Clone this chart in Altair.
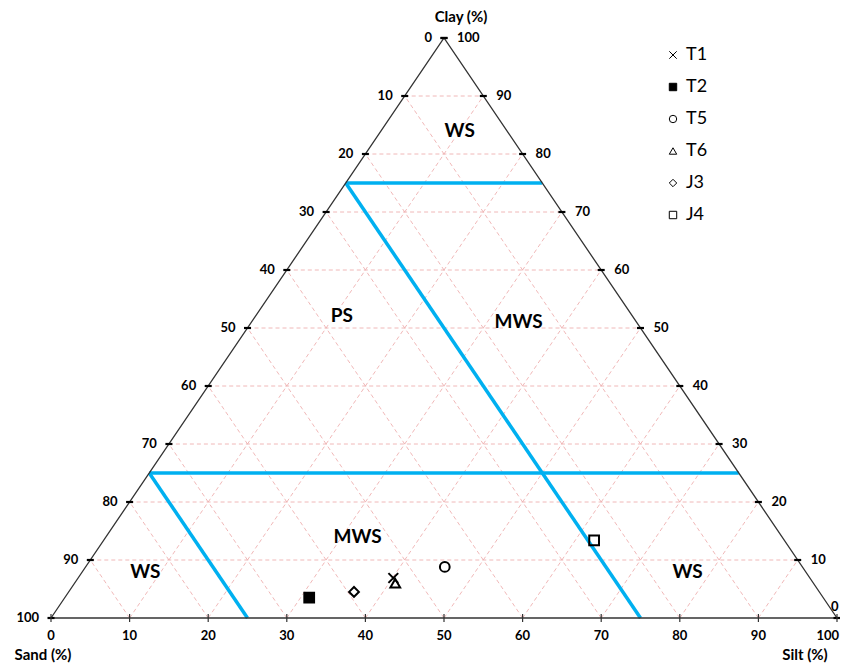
import altair as alt
import pandas as pd

# ---- data ----
series = ["T1", "T2", "T5", "T6", "J3", "J4"]
sand = [53.0, 65.4, 45.5, 53.2, 59.2, 24.2]
silt = [40.1, 31.1, 45.7, 40.8, 36.3, 62.4]
clay = [6.9, 3.5, 8.8, 6.0, 4.5, 13.4]

region_text = ["WS", "PS", "MWS", "MWS", "WS", "WS"]
region_sand = [6, 37, 15, 54, 84, 15]
region_silt = [10, 11, 34, 32, 8, 77]
region_clay = [84, 52, 51, 14, 8, 8]

levels = [0, 10, 20, 30, 40, 50, 60, 70, 80, 90, 100]
grid_levels = [10, 20, 30, 40, 50, 60, 70, 80, 90]

# boundary lines: (sand, silt, clay) start and end
bound_start = [(25, 0, 75), (75, 0, 25), (25, 0, 75), (75, 0, 25)]
bound_end = [(0, 25, 75), (0, 75, 25), (25, 75, 0), (75, 25, 0)]


def tx(si, cl):
    return si + cl / 2.0


# ---- tables ----
pts = pd.DataFrame({"series": series, "x": [tx(s, c) for s, c in zip(silt, clay)], "y": clay})

grid_rows = []
for c in grid_levels:
    grid_rows.append({"x": c / 2, "y": c, "x2": 100 - c / 2, "y2": c})
    grid_rows.append({"x": tx(100 - c, 0), "y": 0, "x2": tx(0, 100 - c), "y2": 100 - c})
    grid_rows.append({"x": tx(c, 0), "y": 0, "x2": tx(c, 100 - c), "y2": 100 - c})
grid = pd.DataFrame(grid_rows)

bounds = pd.DataFrame([
    {"x": tx(a[1], a[2]), "y": a[2], "x2": tx(b[1], b[2]), "y2": b[2]}
    for a, b in zip(bound_start, bound_end)
])

edges = pd.DataFrame({"x": [0, 100, 50, 0], "y": [0, 0, 100, 0], "o": [0, 1, 2, 3]})

left_ticks = pd.DataFrame({"x": [c / 2 for c in levels], "y": levels,
                           "label": [str(100 - c) for c in levels]})
right_ticks = pd.DataFrame({"x": [100 - c / 2 for c in levels], "y": levels,
                            "label": [str(c) for c in levels]})
bottom_ticks = pd.DataFrame({"x": levels, "y": [0] * len(levels),
                             "label": [str(s) for s in levels]})

regions = pd.DataFrame({"label": region_text,
                        "x": [tx(s, c) for s, c in zip(region_silt, region_clay)],
                        "y": region_clay})

FONT = "Lato"
xs = alt.Scale(domain=[0, 100], nice=False, zero=False)
ys = alt.Scale(domain=[0, 100], nice=False, zero=False)
X = alt.X("x:Q", scale=xs, axis=None)
Y = alt.Y("y:Q", scale=ys, axis=None)

grid_layer = alt.Chart(grid).mark_rule(color="#eeb0b0", strokeWidth=0.9, strokeDash=[4, 3]).encode(
    x=X, y=Y, x2="x2:Q", y2="y2:Q")

box_shape = "M-3,-1.3H3V1.3H-3Z"
box_layer = alt.Chart(regions).mark_point(shape=box_shape, size=110, filled=True, fill="white",
                                          opacity=1, strokeWidth=0).encode(x=X, y=Y)

bound_layer = alt.Chart(bounds).mark_rule(color="#00b0f0", strokeWidth=3.5).encode(
    x=X, y=Y, x2="x2:Q", y2="y2:Q")

edge_layer = alt.Chart(edges).mark_line(color="#333333", strokeWidth=1.3).encode(
    x=X, y=Y, order="o:Q")

hshape = "M-1,0H1"
vshape = "M0,-1V1"
lt = alt.Chart(left_ticks).mark_point(shape=hshape, size=49, color="black", strokeWidth=2.2, opacity=1).encode(x=X, y=Y)
rt = alt.Chart(right_ticks).mark_point(shape=hshape, size=49, color="black", strokeWidth=2.2, opacity=1).encode(x=X, y=Y)
bt = alt.Chart(bottom_ticks).mark_point(shape=vshape, size=64, color="#333333", strokeWidth=1.2, opacity=1).encode(x=X, y=Y)

lt_text = alt.Chart(left_ticks).mark_text(align="right", baseline="middle", dx=-12, font=FONT,
                                          fontSize=13, fontWeight="bold", color="black").encode(x=X, y=Y, text="label:N")
rt_text = alt.Chart(right_ticks[right_ticks["label"] != "0"]).mark_text(
    align="left", baseline="middle", dx=13, font=FONT,
    fontSize=13, fontWeight="bold", color="black").encode(x=X, y=Y, text="label:N")
rt_text0 = alt.Chart(right_ticks[right_ticks["label"] == "0"]).mark_text(
    align="left", baseline="middle", dx=-6, dy=-11, font=FONT,
    fontSize=13, fontWeight="bold", color="black").encode(x=X, y=Y, text="label:N")
bt_text = alt.Chart(bottom_ticks[bottom_ticks["label"] != "100"]).mark_text(
    align="center", baseline="middle", dy=18, font=FONT,
    fontSize=13, fontWeight="bold", color="black").encode(x=X, y=Y, text="label:N")
bt_text100 = alt.Chart(bottom_ticks[bottom_ticks["label"] == "100"]).mark_text(
    align="right", baseline="middle", dx=2, dy=18, font=FONT,
    fontSize=13, fontWeight="bold", color="black").encode(x=X, y=Y, text="label:N")

titles = pd.DataFrame({"x": [50, 0, 100], "y": [100, 0, 0],
                       "label": ["Clay (%)", "Sand (%)", "Silt (%)"],
                       "dx": [17, -8, -32], "dy": [-21, 37, 37]})
title_layers = []
for _, r in titles.iterrows():
    title_layers.append(
        alt.Chart(titles[titles["label"] == r["label"]]).mark_text(
            align="center", baseline="middle", dx=float(r["dx"]), dy=float(r["dy"]),
            font=FONT, fontSize=15, fontWeight="bold", color="black").encode(x=X, y=Y, text="label:N"))

region_layer = alt.Chart(regions).mark_text(align="center", baseline="middle", font=FONT,
                                            fontSize=19, fontWeight="bold", color="black").encode(
    x=X, y=Y, text="label:N")

shape_range = ["M-1,-1L1,1M1,-1L-1,1", "square", "circle", "triangle-up", "diamond", "square"]
fill_range = ["transparent", "black", "transparent", "transparent", "transparent", "transparent"]
stroke_range = ["black"] * 6


def leg():
    return alt.Legend(orient="none", legendX=613, legendY=8, title=None,
                      labelFont=FONT, labelFontSize=18, labelColor="black",
                      symbolSize=55, symbolStrokeWidth=1,
                      rowPadding=14, labelOffset=4, padding=0)


point_layer = alt.Chart(pts).mark_point(strokeWidth=2, size=95, opacity=1).encode(
    x=X, y=Y,
    shape=alt.Shape("series:N", scale=alt.Scale(domain=series, range=shape_range), legend=leg()),
    fill=alt.Fill("series:N", scale=alt.Scale(domain=series, range=fill_range), legend=leg()),
    stroke=alt.Stroke("series:N", scale=alt.Scale(domain=series, range=stroke_range), legend=leg()),
)

chart = alt.layer(
    grid_layer, box_layer, bound_layer, edge_layer, lt, rt, bt, lt_text, rt_text, rt_text0,
    bt_text, bt_text100, *title_layers, region_layer, point_layer
).properties(
    width=786, height=580,
    padding={"left": 43, "top": 30, "right": 3, "bottom": 45},
    autosize=alt.AutoSizeParams(type="none"),
    background="white",
).configure_view(strokeWidth=0, stroke=None)

chart.save("out.html", embed_options={"renderer": "svg", "actions": False})
